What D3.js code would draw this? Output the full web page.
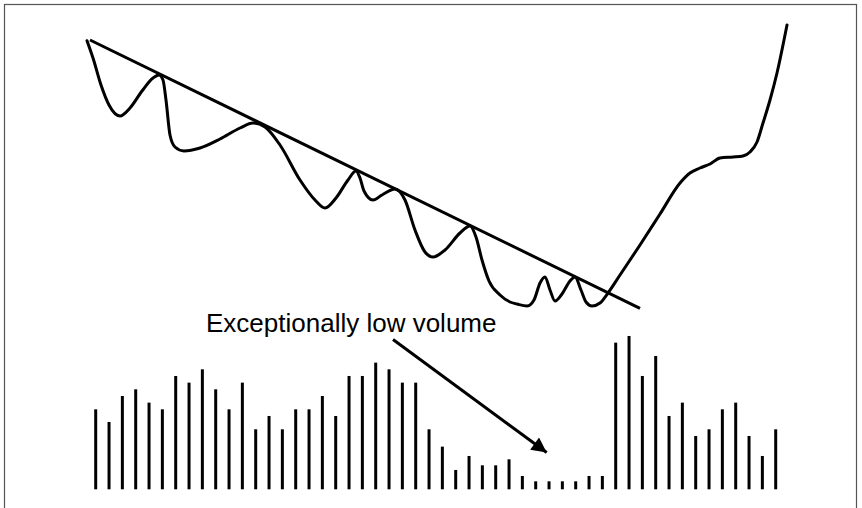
<!DOCTYPE html>
<html>
<head>
<meta charset="utf-8">
<script src="https://cdn.jsdelivr.net/npm/d3@7"></script>
<style>
  html, body { margin: 0; padding: 0; background: #fff; }
  svg { display: block; }
</style>
</head>
<body>
<svg id="chart" width="862" height="508"></svg>
<script>
// ---- DATA ----
// Volume bars (one per period, arbitrary units)
const volumeValues = [12,10.1,14,15,13,12,17,16,18,15,12,16,9,11,9,12,12,14,11,17,
  17,19,18,16,16,9,6.4,2.9,5,3.6,3.6,4.5,2,1.2,1.2,1.2,1.2,2,2,22,
  23,17,20,11,13,8,9,12,13,8,5,9];

// Price path: time (period units) and price
const priceTime = [
  0,6,14,22,33,43,55,66,72,76,
  79,83,88,97,113,133,153,166,178,193,
  213,228,238,249,261,269,273,277,286,295,
  308,318,328,338,346,358,373,383,389,395,
  402,413,423,430,440,447,453,458,463,468,
  475,483,488,494,499,505,513,521,533,553,
  573,593,603,613,623,633,646,656,663,670,
  676,683,690,700];
const priceValue = [
  274.3,257,230,210,199,207,224,237,240,235,
  215,180,168,164,167,176,187,192,188,170,
  135,115,107,117,135,144,137,124,115,120,
  126,115,85,63,58,65,82,89,78,55,
  34,20,13,11,9,15,32,38,25,14,
  21,34,38,25,13,9,12,22,40,70,
  101,132,142,147,151,157,158,159,163,173,
  192,215,242,290];

// Trend (resistance) line endpoints
const trendTime = [3, 553];
const trendValue = [275, 6.7];

const annotationText = "Exceptionally low volume";

// ---- LAYOUT ----
const svg = d3.select("#chart");

// frame
svg.append("rect")
  .attr("x", 4.5).attr("y", 4.5)
  .attr("width", 852).attr("height", 540)
  .attr("fill", "none").attr("stroke", "#555").attr("stroke-width", 1.2);

// price scales
const xP = d3.scaleLinear().domain([0, 700]).range([87, 787]);
const yP = d3.scaleLinear().domain([0, 290]).range([315, 25]);

// volume scales
const xV = d3.scaleLinear().domain([0, volumeValues.length - 1]).range([95.7, 775.7]);
const yV = d3.scaleLinear().domain([0, 30]).range([489.3, 289.3]);

// volume bars
svg.append("g").selectAll("line")
  .data(volumeValues)
  .join("line")
  .attr("x1", (d, i) => xV(i)).attr("x2", (d, i) => xV(i))
  .attr("y1", yV(0)).attr("y2", d => yV(d))
  .attr("stroke", "#000").attr("stroke-width", 3);

// trend line
svg.append("line")
  .attr("x1", xP(trendTime[0])).attr("y1", yP(trendValue[0]))
  .attr("x2", xP(trendTime[1])).attr("y2", yP(trendValue[1]))
  .attr("stroke", "#000").attr("stroke-width", 3);

// price curve
const pts = priceTime.map((t, i) => [t, priceValue[i]]);
const line = d3.line()
  .x(d => xP(d[0])).y(d => yP(d[1]))
  .curve(d3.curveMonotoneX);
svg.append("path")
  .attr("d", line(pts))
  .attr("fill", "none").attr("stroke", "#000").attr("stroke-width", 3)
  .attr("stroke-linejoin", "round").attr("stroke-linecap", "round");

// annotation text
svg.append("text")
  .attr("x", 206).attr("y", 331.5)
  .attr("font-family", "Liberation Sans, Arial, sans-serif")
  .attr("font-size", 26)
  .attr("fill", "#000")
  .text(annotationText);

// arrow
const defs = svg.append("defs");
defs.append("marker")
  .attr("id", "arrowhead")
  .attr("viewBox", "0 0 10 10")
  .attr("refX", 10).attr("refY", 5)
  .attr("markerUnits", "userSpaceOnUse")
  .attr("markerWidth", 17).attr("markerHeight", 15)
  .attr("orient", "auto")
  .append("path").attr("d", "M0,0 L10,5 L0,10 Z").attr("fill", "#000");

svg.append("line")
  .attr("x1", 393).attr("y1", 339.5)
  .attr("x2", 546.7).attr("y2", 452.5)
  .attr("stroke", "#000").attr("stroke-width", 3)
  .attr("marker-end", "url(#arrowhead)");
</script>
</body>
</html>
